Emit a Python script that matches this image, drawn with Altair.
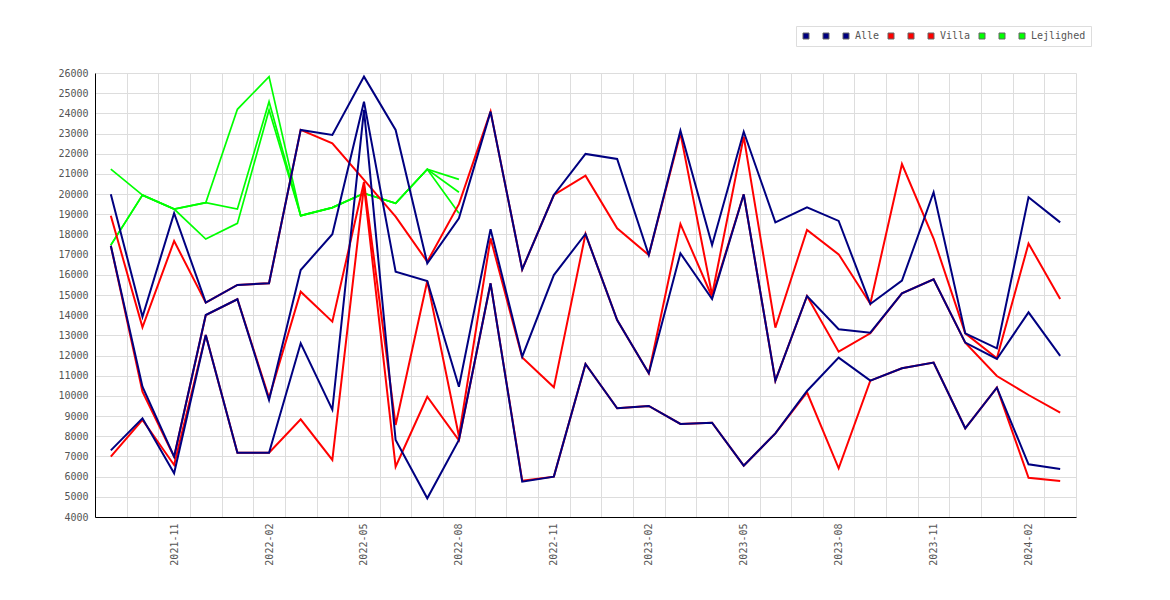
import altair as alt
import pandas as pd

months = ["2021-09", "2021-10", "2021-11", "2021-12", "2022-01", "2022-02", "2022-03",
          "2022-04", "2022-05", "2022-06", "2022-07", "2022-08", "2022-09", "2022-10",
          "2022-11", "2022-12", "2023-01", "2023-02", "2023-03", "2023-04", "2023-05",
          "2023-06", "2023-07", "2023-08", "2023-09", "2023-10", "2023-11", "2023-12",
          "2024-01", "2024-02", "2024-03"]

alle_hi = [19990, 13925, 19050, 14620, 15500, 15580, 23180, 22930, 25820, 23180, 16570,
           18800, 24085, 16270, 19955, 21990, 21740, 16980, 23140, 17480, 23090, 18600,
           19345, 18670, 14555, 15710, 20090, 13100, 12360, 19840, 18600]
alle_mid = [17440, 10456, 6990, 14010, 14790, 9800, 16240, 18010, 24580, 16155, 15690,
            10456, 18255, 11945, 15990, 18025, 13760, 11120, 17065, 14800, 19990, 10755,
            14950, 13300, 13130, 15080, 15780, 12640, 11830, 14140, 11980]
alle_lo = [7300, 8890, 6165, 13020, 7185, 7185, 12605, 9315, 24170, 7815, 4925,
           7815, 15580, 5750, 6000, 11580, 9385, 9500, 8610, 8675, 6545, 8145,
           10245, 11895, 10755, 11370, 11650, 8395, 10410, 6610, 6380]

villa_hi = [18930, 13400, 17675, 14620, 15500, 15580, 23180, 22520, 20700, 18880, 16650,
            19500, 24085, 16270, 19955, 20910, 18305, 16980, 23010, 15000, 22850, 13380,
            18220, 17015, 14570, 21490, 17800, 13100, 11860, 17550, 14800]
villa_mid = [17440, 10210, 6990, 14000, 14790, 9900, 15165, 13680, 20600, 8560, 15690,
             8000, 17810, 11900, 10425, 18025, 13760, 11120, 18520, 14900, 19990, 10755,
             14950, 12190, 13100, 15080, 15780, 12640, 10985, 10045, 9170]
villa_lo = [6990, 8810, 6577, 13020, 7185, 7185, 8840, 6825, 20400, 6490, 9960,
            7800, 15580, 5800, 6000, 11580, 9385, 9500, 8610, 8675, 6545, 8145,
            10180, 6410, 10755, 11370, 11650, 8395, 10410, 5945, 5785]

lejl_hi = [21240, 19950, 19260, 19575, 24200, 25820, 18930, 19330, 20040, 19545, 21230, 20730]
lejl_mid = [17470, 19950, 19260, 19575, 19260, 24580, 18930, 19330, 20040, 19545, 21230, 20090]
lejl_lo = [17470, 19950, 19260, 17775, 18550, 24170, 18930, 19330, 20040, 19545, 21230, 19050]

series_names = ["Alle_1", "Alle_2", "Alle", "Villa_1", "Villa_2", "Villa",
                "Lejlighed_1", "Lejlighed_2", "Lejlighed"]
series_colors = ["#000080", "#000080", "#000080", "#ff0000", "#ff0000", "#ff0000",
                 "#00ff00", "#00ff00", "#00ff00"]

series = [
    ("Alle_1", "Alle", alle_hi), ("Alle_2", "Alle", alle_mid), ("Alle", "Alle", alle_lo),
    ("Villa_1", "Villa", villa_hi), ("Villa_2", "Villa", villa_mid), ("Villa", "Villa", villa_lo),
    ("Lejlighed_1", "Lejlighed", lejl_hi), ("Lejlighed_2", "Lejlighed", lejl_mid),
    ("Lejlighed", "Lejlighed", lejl_lo),
]
rows = []
for name, grp, vals in series:
    for i, v in enumerate(vals):
        rows.append({"t": i, "series": name, "grp": grp, "v": v})
df = pd.DataFrame(rows)

FONT = "DejaVu Sans Mono"
month_arr = "[" + ",".join("'" + m + "'" for m in months) + "]"
x_vals = [k / 2 for k in range(-1, 62)]

x_enc = alt.X(
    "t:Q",
    scale=alt.Scale(domain=[-0.5, 30.5], nice=False, zero=False),
    axis=alt.Axis(
        values=x_vals,
        labelExpr="(datum.value % 3 == 2) ? " + month_arr + "[datum.value] : ''",
        labelAngle=-90,
        labelOverlap=False,
        labelFlush=False,
        labelBound=False,
        labelPadding=6,
        ticks=False,
        title=None,
        grid=True,
        gridOpacity={"condition": {"test": "datum.value % 1 != 0", "value": 1}, "value": 0},
    ),
)
y_enc = alt.Y(
    "v:Q",
    scale=alt.Scale(domain=[4000, 26000], nice=False, zero=False),
    axis=alt.Axis(values=list(range(4000, 26001, 1000)), ticks=False, title=None,
                  labelPadding=7, labelOverlap=False, format="d"),
)
color_scale = alt.Scale(domain=series_names, range=series_colors)

base = alt.Chart(df).encode(x=x_enc, y=y_enc)

def line_layer(grp, width):
    return base.transform_filter(alt.datum.grp == grp).mark_line(strokeWidth=width).encode(
        color=alt.Color("series:N", scale=color_scale, legend=None),
        order="t:Q",
    )

legend_layer = base.mark_square(
    filled=True, size=36, stroke="#666666", strokeWidth=1, opacity=1
).encode(
    color=alt.Color(
        "series:N", scale=color_scale,
        legend=alt.Legend(
            orient="none", legendX=701, legendY=-47, direction="horizontal", title=None,
            labelExpr="indexof(datum.label, '_') >= 0 ? ' ' : datum.label",
            labelFont=FONT, labelFontSize=10, labelColor="#555555", labelOffset=4,
            columnPadding=6, symbolSize=36, symbolType="square",
            symbolStrokeColor="#666666", symbolStrokeWidth=1, symbolOpacity=1,
            padding=5, strokeColor="#dddddd", fillColor="white",
        ),
    ),
    size=alt.value(0),
)

chart = alt.layer(
    line_layer("Lejlighed", 1.7),
    line_layer("Villa", 2),
    line_layer("Alle", 2),
    legend_layer,
).resolve_legend(color="independent").properties(
    width=981, height=444,
    padding={"left": 87, "top": 65, "right": 80, "bottom": 60},
    autosize=alt.AutoSizeParams(type="none"),
).configure_view(stroke=None).configure_axis(
    labelFont=FONT, labelFontSize=10, labelColor="#555555",
    domainColor="black", domainWidth=1, gridColor="#dddddd", gridWidth=1,
)

chart.save("out.html", embed_options={"renderer": "svg", "actions": False})
